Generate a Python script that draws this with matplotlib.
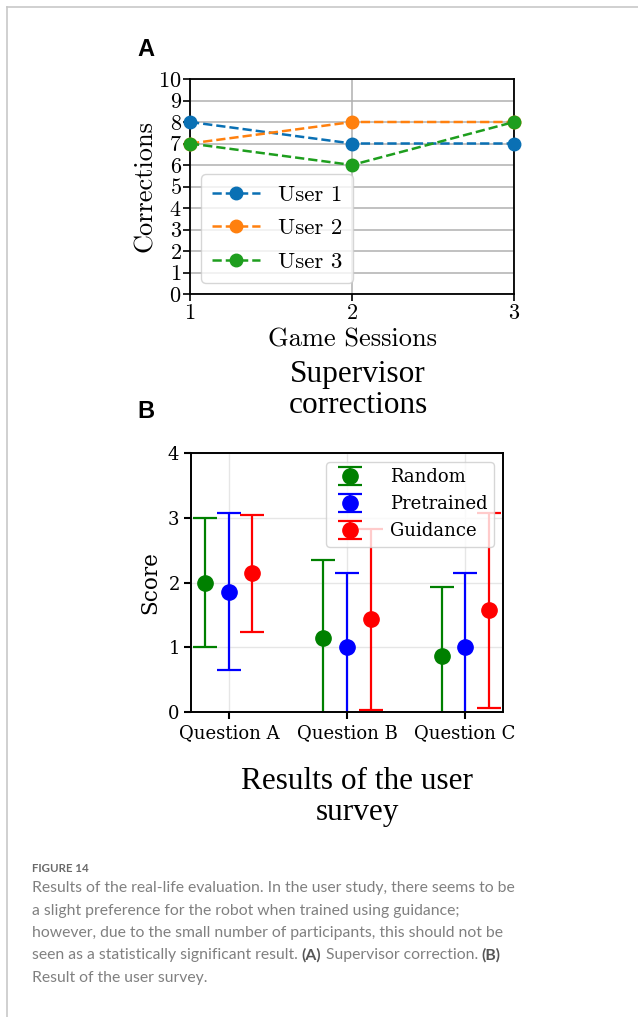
import matplotlib
matplotlib.use("Agg")
import matplotlib.pyplot as plt
from matplotlib.lines import Line2D
import numpy as np

# ---------------- data ----------------
sessions = [1, 2, 3]
user_names = ["User 1", "User 2", "User 3"]
user1 = [8, 7, 7]
user2 = [7, 8, 8]
user3 = [7, 6, 8]

questions = ["Question A", "Question B", "Question C"]
methods = ["Random", "Pretrained", "Guidance"]
random_mean = [2.00, 1.14, 0.86]
random_err = [1.00, 1.21, 1.07]
pretrained_mean = [1.86, 1.00, 1.00]
pretrained_err = [1.21, 1.15, 1.15]
guidance_mean = [2.14, 1.43, 1.57]
guidance_err = [0.90, 1.40, 1.51]

caption_head = "FIGURE 14"
caption_lines = [
    [("Results of the real-life evaluation. In the user study, there seems to be", False)],
    [("a slight preference for the robot when trained using guidance;", False)],
    [("however, due to the small number of participants, this should not be", False)],
    [("seen as a statistically significant result. ", False), ("(A)", True),
     (" Supervisor correction. ", False), ("(B)", True)],
    [("Result of the user survey.", False)],
]

plt.rcParams['axes.formatter.use_mathtext'] = True

W, H = 638, 1017
fig = plt.figure(figsize=(W / 100, H / 100), dpi=100)

def fx(px):
    return px / W

def fy(py):
    return 1 - py / H

# frame lines of the figure page
fig.add_artist(Line2D([fx(6.5), fx(6.5)], [fy(7), fy(1017)], color="#c8c8c8", lw=1.2))
fig.add_artist(Line2D([fx(6.5), 1.0], [fy(7), fy(7)], color="#c8c8c8", lw=1.2))

# ---------------- panel A ----------------
axA = fig.add_axes([fx(190), fy(294), fx(514) - fx(190), fy(79) - fy(294)])
cm = "cmr10"
colorsA = ["#0a70b4", "#ff800e", "#1e9e1e"]
for vals, name, c in zip([user1, user2, user3], user_names, colorsA):
    axA.plot(sessions, vals, ls="--", marker="o", color=c, lw=1.8, ms=9, label=name,
             clip_on=False, zorder=3)
axA.set_xlim(1, 3)
axA.set_ylim(0, 10)
axA.set_xticks(sessions)
axA.set_yticks(range(0, 11))
axA.grid(True, color="#b0b0b0", lw=1.1)
axA.set_axisbelow(True)
for lab in axA.get_xticklabels() + axA.get_yticklabels():
    lab.set_family(cm)
    lab.set_fontsize(16)
axA.tick_params(axis="both", length=5, width=1.2, pad=2)
axA.tick_params(axis="y", pad=1)
axA.set_xlabel("Game Sessions", family=cm, fontsize=19, labelpad=3)
axA.set_ylabel("Corrections", family=cm, fontsize=19, labelpad=1)
for s in axA.spines.values():
    s.set_linewidth(1.3)
legA = axA.legend(loc="lower left", prop={"family": cm, "size": 16.5}, handlelength=2.1,
                  borderpad=0.45, labelspacing=0.6, handletextpad=0.8, framealpha=0.8,
                  edgecolor="#cccccc")

fig.text(fx(137), fy(49), "A", family="Liberation Sans", weight="bold", fontsize=17,
         ha="left", va="center")
fig.text(fx(358), fy(390), "Supervisor\ncorrections", family="Liberation Serif",
         fontsize=22.5, ha="center", va="center", linespacing=1.05)

# ---------------- panel B ----------------
axB = fig.add_axes([fx(191), fy(712), fx(503) - fx(191), fy(453) - fy(712)])
x = np.arange(len(questions))
offsets = [-0.2, 0.0, 0.2]
colorsB = ["green", "blue", "red"]
for off, m, e, name, c in zip(offsets, [random_mean, pretrained_mean, guidance_mean],
                              [random_err, pretrained_err, guidance_err], methods, colorsB):
    axB.errorbar(x + off, m, yerr=e, fmt="o", color=c, ms=11, capsize=8.5, elinewidth=1.6,
                 capthick=1.6, label=name)
axB.set_ylim(0, 4)
axB.set_xlim(-0.32, 2.32)
axB.set_yticks(range(0, 5))
axB.set_xticks(x)
axB.set_xticklabels(questions)
axB.grid(True, color="#e6e6e6", lw=1.0)
axB.set_axisbelow(True)
for lab in axB.get_xticklabels() + axB.get_yticklabels():
    lab.set_family("DejaVu Serif")
    lab.set_fontsize(13)
axB.tick_params(axis="both", length=5, width=1.5)
axB.set_ylabel("Score", family="DejaVu Serif", fontsize=15.5)
for s in axB.spines.values():
    s.set_linewidth(1.4)
legB = axB.legend(loc="upper right", prop={"family": "DejaVu Serif", "size": 13},
                  framealpha=0.8, edgecolor="#cccccc", handletextpad=1.2,
                  borderpad=0.35, labelspacing=0.5)

fig.text(fx(137), fy(411), "B", family="Liberation Sans", weight="bold", fontsize=17,
         ha="left", va="center")
fig.text(fx(357), fy(797), "Results of the user\nsurvey", family="Liberation Serif",
         fontsize=22.5, ha="center", va="center", linespacing=1.05)

# ---------------- caption ----------------
cap_font = "Lato"
fig.text(fx(32), fy(869), caption_head, family=cap_font, weight="bold", fontsize=8.3,
         color="#6a6a6a", ha="left", va="center")
fig.canvas.draw()
renderer = fig.canvas.get_renderer()
y0 = 888
dy = 22.5
for i, parts in enumerate(caption_lines):
    xpos = 32
    for txt, bold in parts:
        t = fig.text(fx(xpos), fy(y0 + i * dy), txt, family=cap_font,
                     weight="bold" if bold else "normal", fontsize=11.3,
                     color="#555555" if bold else "#808080", ha="left", va="center")
        bb = t.get_window_extent(renderer)
        xpos += bb.width

fig.savefig("out.png", dpi=100)
